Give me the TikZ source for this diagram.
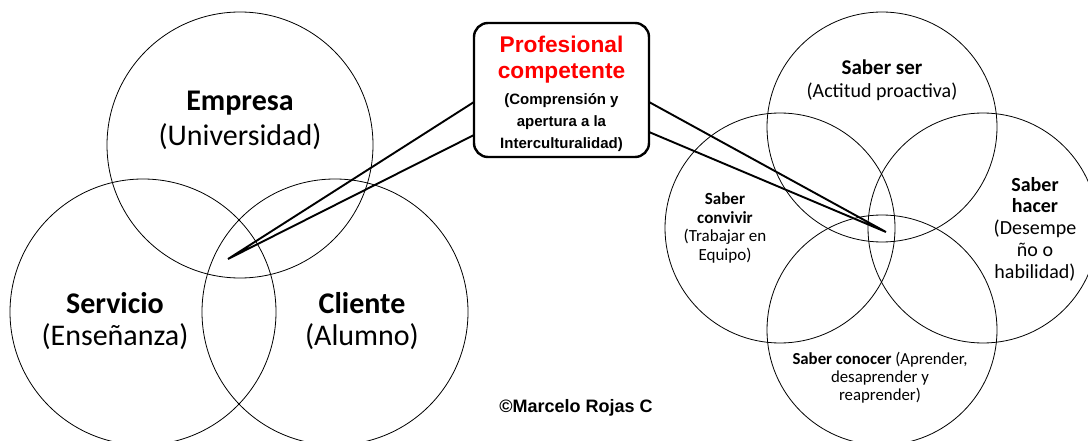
\documentclass[tikz,border=0pt]{standalone}
\usepackage{fontspec}
\setmainfont{Carlito}
\newfontfamily\arialf{Liberation Sans}
\begin{document}
\begin{tikzpicture}[x=1pt,y=-1pt,
  circ/.style={draw, circle, line width=0.8pt, inner sep=0pt},
  bigc/.style={circ, minimum size=266pt},
  smallc/.style={circ, minimum size=230pt},
  ptr/.style={line width=1.9pt, line join=miter},
  lbl/.style={align=center, inner sep=0pt},
  boxst/.style={draw, line width=2.4pt, rounded corners=14pt, minimum width=175pt, minimum height=134pt, inner sep=0pt}
]
\useasboundingbox (0,0) rectangle (1088,441);
\fill[white] (0,0) rectangle (1088,441);
% left circles
\node[bigc] (emp) at (240,145) {};
\node[bigc] (ser) at (143,312) {};
\node[bigc] (cli) at (335,312) {};
% right circles
\node[smallc] (sser) at (882,127) {};
\node[smallc] (sconv) at (780,228) {};
\node[smallc] (shac) at (983,228) {};
\node[smallc] (scon) at (882,330) {};
% pointers
\coordinate (tipL) at (228,259);
\coordinate (tipR) at (886,232);
\coordinate (bl1) at (474,102);
\coordinate (bl2) at (474,135);
\coordinate (br1) at (649,102);
\coordinate (br2) at (649,132);
\draw[ptr] (bl1) -- (tipL) -- (bl2);
\draw[ptr] (br1) -- (tipR) -- (br2);
% box
\node[boxst, fill=white] (box) at (561.5,90) {};
% box text
\node[lbl, text=red, font=\arialf\bfseries\fontsize{22.7}{26}\selectfont] (t1) at (561.5,44) {Profesional};
\node[lbl, text=red, font=\arialf\bfseries\fontsize{22.7}{26}\selectfont] (t2) at (561.5,73) {competente};
\node[lbl, font=\arialf\bfseries\fontsize{15}{17}\selectfont] (t3) at (561.5,101) {(Comprensión y};
\node[lbl, font=\arialf\bfseries\fontsize{15}{17}\selectfont] (t4) at (561.5,123) {apertura a la};
\node[lbl, font=\arialf\bfseries\fontsize{15}{17}\selectfont] (t5) at (561.5,145) {Interculturalidad)};
% left labels
\node[lbl, font=\bfseries\fontsize{30}{34}\selectfont] (le1) at (240,103) {Empresa};
\node[lbl, font=\fontsize{30}{34}\selectfont] (le2) at (240,137) {(Universidad)};
\node[lbl, font=\bfseries\fontsize{30}{34}\selectfont] (ls1) at (115,303) {Servicio};
\node[lbl, font=\fontsize{30}{34}\selectfont] (ls2) at (115,337) {(Enseñanza)};
\node[lbl, font=\bfseries\fontsize{30}{34}\selectfont] (lc1) at (362,303) {Cliente};
\node[lbl, font=\fontsize{30}{34}\selectfont] (lc2) at (362,337) {(Alumno)};
% right labels
\node[lbl, font=\bfseries\fontsize{21}{24}\selectfont] (r1) at (882,67) {Saber ser};
\node[lbl, font=\fontsize{20}{24}\selectfont] (r2) at (882,92) {(Actitud proactiva)};
\node[lbl, font=\fontsize{17}{18.5}\selectfont] (r3) at (725,228) {\textbf{Saber}\\\textbf{convivir}\\(Trabajar en\\Equipo)};
\node[lbl, font=\fontsize{20}{21.8}\selectfont] (r4) at (1035,229) {\textbf{Saber}\\\textbf{hacer}\\(Desempe\\ño o\\habilidad)};
\node[lbl, font=\fontsize{16.8}{18}\selectfont] (r5) at (880,378) {\textbf{Saber conocer} (Aprender,\\desaprender y\\reaprender)};
% copyright
\node[lbl, font=\arialf\bfseries\fontsize{18}{20}\selectfont] (cp) at (576,408) {©Marcelo Rojas C};
\end{tikzpicture}
\end{document}
